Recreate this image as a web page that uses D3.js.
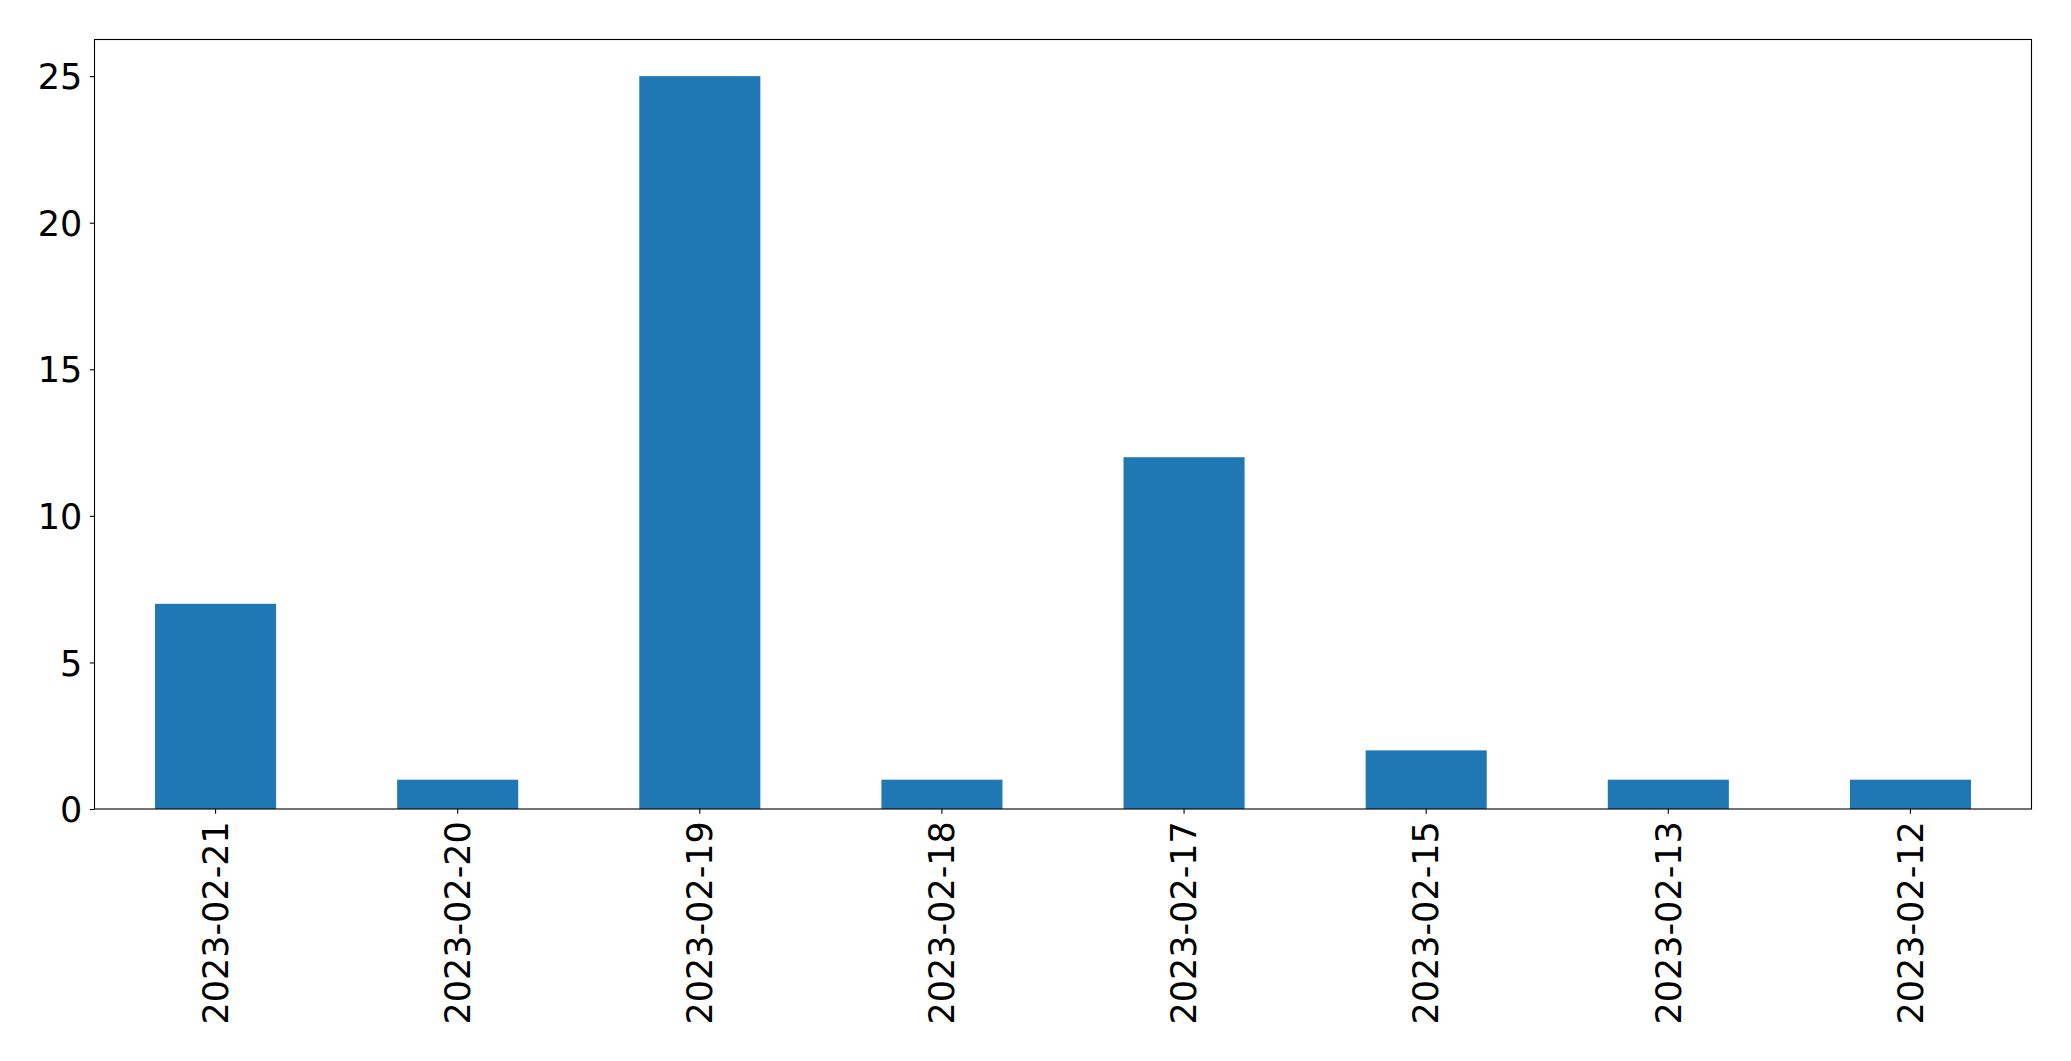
<!DOCTYPE html>
<html>
<head>
<meta charset="utf-8">
<script src="https://cdn.jsdelivr.net/npm/d3@7"></script>
<style>
  html, body { margin: 0; padding: 0; background: #fff; }
  svg { display: block; }
  text { font-family: "DejaVu Sans", sans-serif; fill: #000; }
</style>
</head>
<body>
<div id="chart"></div>
<script>
const dates = ['2023-02-21', '2023-02-20', '2023-02-19', '2023-02-18', '2023-02-17', '2023-02-15', '2023-02-13', '2023-02-12'];
const counts = [7, 1, 25, 1, 12, 2, 1, 1];
const yTicks = [0, 5, 10, 15, 20, 25];

const w = 2071;
const h = 1061;
const m = { t: 39.5, r: 2071 - 2031.5, b: 1061 - 809, l: 94.5 };
const fontSize = 35;

const items = dates.map((d, i) => ({ date: d, count: counts[i] }));

const svg = d3.select('#chart').append('svg').attr('width', w).attr('height', h);

const x = d3
  .scaleBand()
  .domain(dates)
  .range([m.l, w - m.r])
  .paddingInner(0.5)
  .paddingOuter(0.25);
const y = d3
  .scaleLinear()
  .domain([0, d3.max(counts) * 1.05])
  .range([h - m.b, m.t]);

svg
  .append('g')
  .selectAll('rect')
  .data(items)
  .join('rect')
  .attr('x', (d) => x(d.date))
  .attr('y', (d) => y(d.count))
  .attr('width', x.bandwidth())
  .attr('height', (d) => y(0) - y(d.count))
  .attr('fill', '#1f77b4');

// frame
svg
  .append('rect')
  .attr('x', m.l)
  .attr('y', m.t)
  .attr('width', w - m.r - m.l)
  .attr('height', h - m.b - m.t)
  .attr('fill', 'none')
  .attr('stroke', '#000')
  .attr('stroke-width', 1.1);

const xAxis = svg
  .append('g')
  .attr('transform', `translate(0,${h - m.b})`)
  .call(d3.axisBottom(x).tickSize(4.7).tickPadding(6).tickSizeOuter(0));
xAxis.select('.domain').remove();
xAxis.selectAll('line').attr('stroke', '#000').attr('stroke-width', 1.1);
xAxis
  .selectAll('text')
  .attr('font-size', fontSize)
  .attr('font-family', '"DejaVu Sans", sans-serif')
  .attr('transform', 'rotate(-90)')
  .attr('x', -(4.7 + 7.5))
  .attr('y', 0)
  .attr('dy', '0.35em')
  .style('text-anchor', 'end');

const yAxis = svg
  .append('g')
  .attr('transform', `translate(${m.l},0)`)
  .call(d3.axisLeft(y).tickValues(yTicks).tickSize(4.7).tickPadding(7.5).tickSizeOuter(0));
yAxis.select('.domain').remove();
yAxis.selectAll('line').attr('stroke', '#000').attr('stroke-width', 1.1);
yAxis
  .selectAll('text')
  .attr('font-size', fontSize)
  .attr('font-family', '"DejaVu Sans", sans-serif')
  .attr('dy', '0.36em');
</script>
</body>
</html>
